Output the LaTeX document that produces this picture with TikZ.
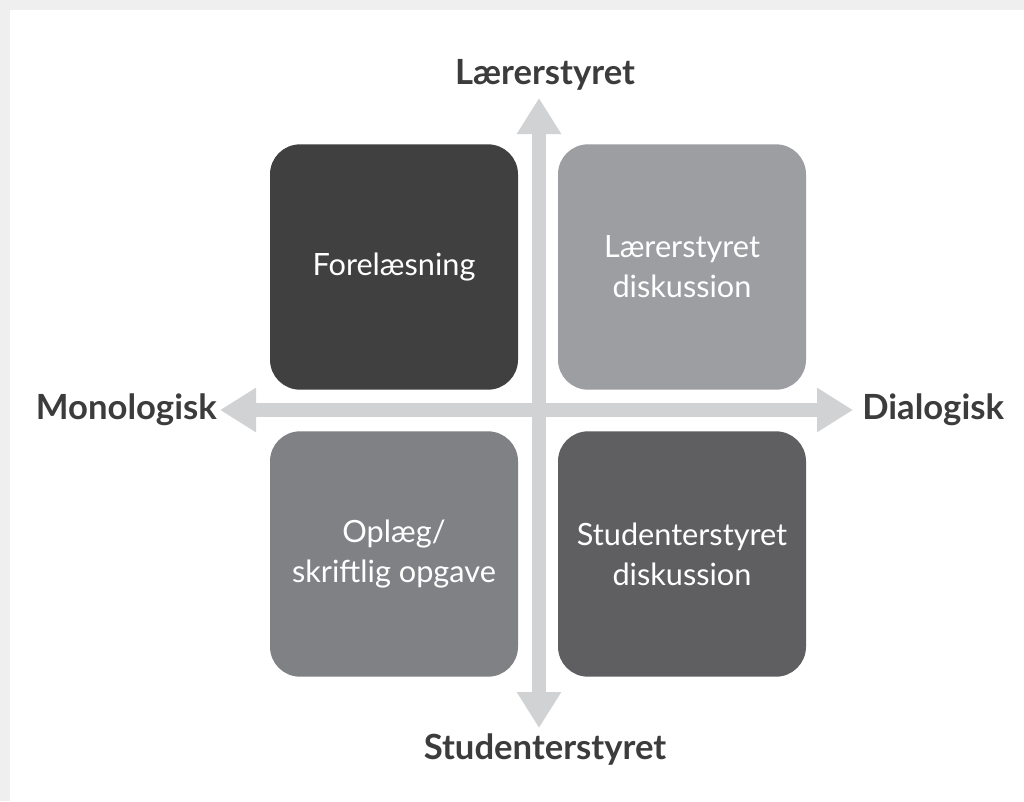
\documentclass[tikz,border=0pt]{standalone}
\usepackage{fontspec}
\setmainfont{Lato}
\usetikzlibrary{arrows.meta}

\definecolor{boxA}{HTML}{404040}
\definecolor{boxB}{HTML}{9D9EA2}
\definecolor{boxC}{HTML}{808185}
\definecolor{boxD}{HTML}{5F5F61}
\definecolor{axis}{HTML}{D1D2D4}
\definecolor{labtext}{HTML}{3C3C3C}
\definecolor{pagegray}{HTML}{EFEFEF}

\begin{document}
\begin{tikzpicture}[x=0.75pt, y=-0.75pt,
  quad/.style={rounded corners=22.5pt, minimum width=186pt, minimum height=184pt,
    inner sep=0pt, align=center, text=white, font=\fontsize{23}{30}\selectfont},
  axislabel/.style={text=labtext, font=\fontsize{26}{30}\selectfont\bfseries, inner sep=0pt},
  axisarrow/.style={draw=axis, line width=10.5pt,
    {Triangle[width=31.5pt, length=27pt]}-{Triangle[width=31.5pt, length=27pt]}}]
  % page and shadow
  \fill[pagegray] (0,0) rectangle (1024,801);
  \fill[white] (10,10) rectangle (1024,801);
  \useasboundingbox (0,0) rectangle (1024,801);

  \coordinate (Top) at (539, 98);
  \coordinate (Bot) at (539, 728);
  \coordinate (Lft) at (220, 410);
  \coordinate (Rgt) at (853, 410);

  % axes
  \draw[axisarrow] (Top) -- (Bot);
  \draw[axisarrow] (Lft) -- (Rgt);

  % quadrants
  \node[quad, fill=boxA] (forel) at (394, 267) {Forelæsning};
  \node[quad, fill=boxB] (laerdisk) at (682, 267) {Lærerstyret\\diskussion};
  \node[quad, fill=boxC] (oplaeg) at (394, 554) {Oplæg/\\skriftlig opgave};
  \node[quad, fill=boxD] (studdisk) at (682, 554) {Studenterstyret\\diskussion};

  % axis labels
  \node[axislabel] (laerer) at (545, 75) {Lærerstyret};
  \node[axislabel] (student) at (545, 750) {Studenterstyret};
  \node[axislabel, anchor=east] (mono) at (217, 410) {Monologisk};
  \node[axislabel, anchor=west] (dialog) at (862, 410) {Dialogisk};
\end{tikzpicture}
\end{document}
